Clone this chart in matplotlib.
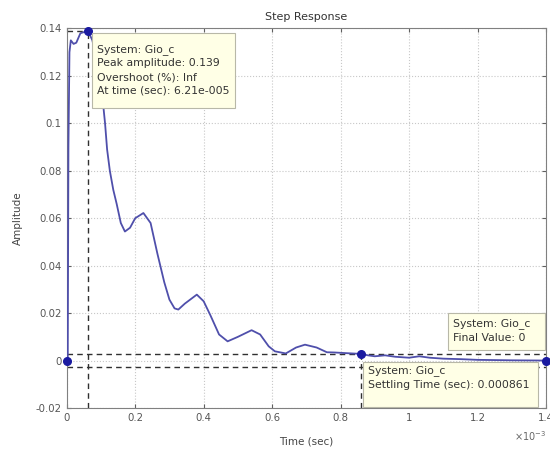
import matplotlib.pyplot as plt
from matplotlib.patches import Rectangle

plt.rcParams['font.family'] = ['DejaVu Sans']

# step response samples (time in ms, amplitude)
t = [0, 0.003, 0.005, 0.008, 0.012, 0.02, 0.028, 0.04, 0.0621, 0.075, 0.09, 0.105,
     0.112, 0.118, 0.126, 0.136, 0.146, 0.158, 0.17, 0.185, 0.2, 0.224, 0.245, 0.265,
     0.285, 0.30, 0.315, 0.326, 0.345, 0.38, 0.40, 0.42, 0.445, 0.47, 0.5, 0.54,
     0.565, 0.59, 0.608, 0.64, 0.67, 0.696, 0.73, 0.76, 0.783, 0.82, 0.861, 0.88,
     0.9, 0.93, 0.96, 1.0, 1.03, 1.06, 1.1, 1.15, 1.2, 1.3, 1.4]
y = [0, 0.0, 0.09, 0.13, 0.135, 0.1335, 0.134, 0.138, 0.139, 0.135, 0.125, 0.11,
     0.1, 0.089, 0.08, 0.072, 0.066, 0.058, 0.0544, 0.056, 0.06, 0.0622, 0.058,
     0.045, 0.033, 0.0257, 0.022, 0.0215, 0.024, 0.0278, 0.025, 0.019, 0.011,
     0.0081, 0.010, 0.0128, 0.011, 0.006, 0.0039, 0.003, 0.0055, 0.0067, 0.0055,
     0.0035, 0.0034, 0.0031, 0.0028, 0.0022, 0.0018, 0.0022, 0.0016, 0.0012,
     0.0018, 0.0012, 0.0008, 0.0006, 0.0003, 0.0001, 0]

peak_t, peak_amp = 0.0621, 0.139
settle_t = 0.861
final_value = 0
band = 0.0028
t_end = 1.4

xticks = [0, 0.2, 0.4, 0.6, 0.8, 1, 1.2, 1.4]
xlabels = ['0', '0.2', '0.4', '0.6', '0.8', '1', '1.2', '1.4']
yticks = [-0.02, 0, 0.02, 0.04, 0.06, 0.08, 0.1, 0.12, 0.14]
ylabels = ['-0.02', '0', '0.02', '0.04', '0.06', '0.08', '0.1', '0.12', '0.14']

fig = plt.figure(figsize=(5.5, 4.55), dpi=100)
ax = fig.add_axes([0.1213, 0.1033, 0.8714, 0.8341])

ax.plot(t, y, color='#4f4fab', lw=1.3, zorder=3)

# characteristic lines
dash = dict(color='#303030', lw=1.0, ls=(0, (4, 3)), zorder=2)
ax.plot([0, peak_t], [peak_amp, peak_amp], **dash)
ax.plot([peak_t, peak_t], [-0.02, peak_amp], **dash)
ax.plot([0, t_end], [band, band], **dash)
ax.plot([0, t_end], [-band, -band], **dash)
ax.plot([settle_t, settle_t], [-0.02, band], **dash)

mk = dict(marker='o', ms=5.5, color='#1a1aa0', ls='none', zorder=5, clip_on=False)
ax.plot([peak_t], [peak_amp], **mk)
ax.plot([0], [final_value], **mk)
ax.plot([settle_t], [band], **mk)
ax.plot([t_end], [final_value], **mk)


def datatip(x0, y0, w, h, tx, ty, s):
    ax.add_patch(Rectangle((x0, y0), w, h, fc='#ffffe6', ec='#b8b8a8', lw=0.8, zorder=6))
    ax.text(tx, ty, s, fontsize=7.8, color='#333333', va='top', ha='left',
            linespacing=1.45, zorder=7)


datatip(0.074, 0.1065, 0.418, 0.0316, 0.0885, 0.1335,
        'System: Gio_c\nPeak amplitude: 0.139\nOvershoot (%): Inf\nAt time (sec): 6.21e-005')
datatip(0.865, -0.0194, 0.511, 0.0190, 0.88, -0.0020,
        'System: Gio_c\nSettling Time (sec): 0.000861')
datatip(1.113, 0.0046, 0.283, 0.0156, 1.128, 0.0177,
        'System: Gio_c\nFinal Value: 0')

ax.set_xlim(0, t_end)
ax.set_ylim(-0.02, 0.14)
ax.set_xticks(xticks, xlabels)
ax.set_yticks(yticks, ylabels)
ax.tick_params(direction='in', top=True, right=True, length=3, labelsize=7.3,
               colors='#606060', labelcolor='#555555')
for s in ax.spines.values():
    s.set_color('#808080')
ax.grid(True, color='#c8c8c8', ls=':', lw=0.8)

ax.set_title('Step Response', fontsize=8, color='#333333', pad=6)
ax.set_xlabel('Time (sec)', fontsize=7.5, color='#444444', labelpad=10)
ax.set_ylabel('Amplitude', fontsize=7.5, color='#444444', labelpad=9)
fig.text(0.993, 0.03, r'$\times10^{-3}$', fontsize=7, color='#666666', ha='right')

fig.savefig('out.png', dpi=100)
